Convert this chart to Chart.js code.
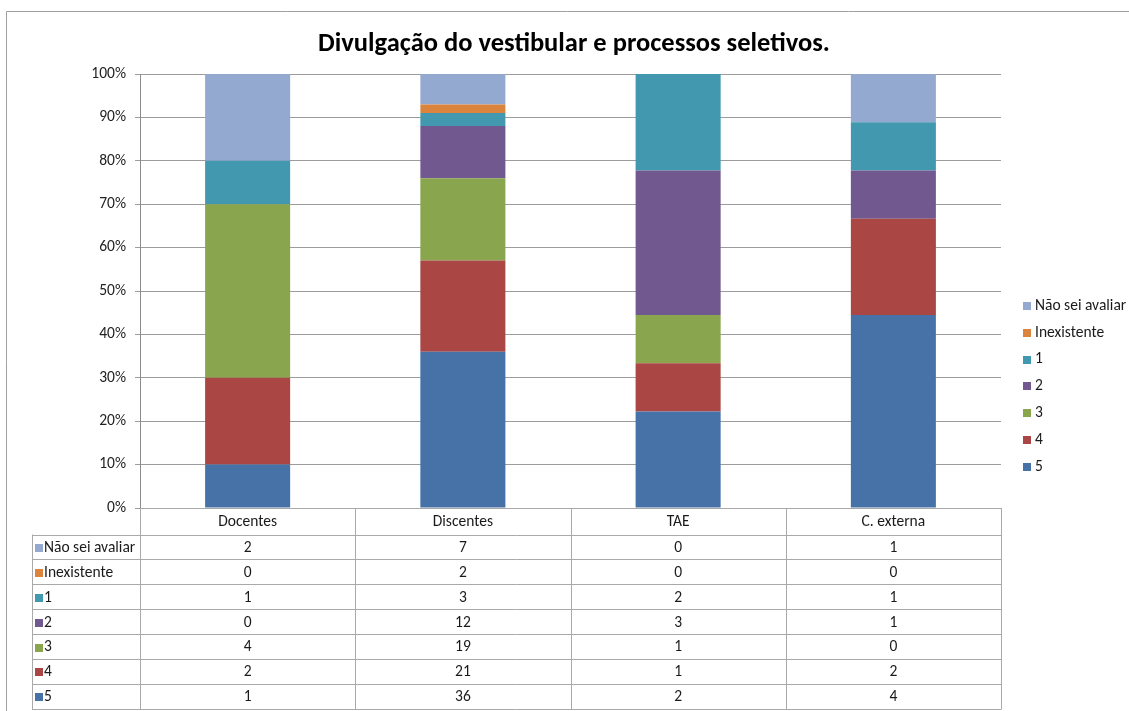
<!DOCTYPE html>
<html>
<head>
<meta charset="utf-8">
<script src="https://cdn.jsdelivr.net/npm/chart.js@4"></script>
<style>
  html, body { margin: 0; padding: 0; background: #ffffff; }
  #wrap { width: 1129px; height: 711px; position: relative; }
</style>
</head>
<body>
<div id="wrap"><canvas id="c" width="1129" height="711"></canvas></div>
<script>
// Respondent groups (columns)
const categories = ['Docentes', 'Discentes', 'TAE', 'C. externa'];

// Answer counts per group
const naoSeiAvaliar = [2, 7, 0, 1];
const inexistente   = [0, 2, 0, 0];
const nota1         = [1, 3, 2, 1];
const nota2         = [0, 12, 3, 1];
const nota3         = [4, 19, 1, 0];
const nota4         = [2, 21, 1, 2];
const nota5         = [1, 36, 2, 4];

// Y axis tick labels (0% .. 100%)
const yTickLabels = ['0%', '10%', '20%', '30%', '40%', '50%', '60%', '70%', '80%', '90%', '100%'];

const chartTitle = 'Divulgação do vestibular e processos seletivos.';

// Series, bottom of the stack first
const series = [
  { label: '5',               counts: nota5,         color: '#4672A8' },
  { label: '4',               counts: nota4,         color: '#AA4644' },
  { label: '3',               counts: nota3,         color: '#89A54E' },
  { label: '2',               counts: nota2,         color: '#71598F' },
  { label: '1',               counts: nota1,         color: '#4198AF' },
  { label: 'Inexistente',     counts: inexistente,   color: '#DB843D' },
  { label: 'Não sei avaliar', counts: naoSeiAvaliar, color: '#93A9CF' }
];

// Column totals for the 100% stacking
const totals = categories.map((_, i) => series.reduce((s, d) => s + d.counts[i], 0));

const FONT = "Carlito, 'Open Sans', 'Liberation Sans', sans-serif";
const LINE = '#a9a9a9';
const TEXT_SIZE = 15.5;

const tablePlugin = {
  id: 'dataTable',
  afterDraw(chart) {
    const ctx = chart.ctx;
    const a = chart.chartArea;
    const xs = chart.scales.x;
    const colW = (a.right - a.left) / categories.length;
    const headerH = 26.5;
    const rowH = 24.9;
    const tableLeft = 32;
    const rows = series.slice().reverse();
    const top = a.bottom;
    const bodyTop = top + headerH;
    const bottom = bodyTop + rows.length * rowH;

    ctx.save();
    // outer chart frame (left and top edges)
    ctx.strokeStyle = '#a0a0a0';
    ctx.lineWidth = 1;
    ctx.beginPath();
    ctx.moveTo(6.5, 711);
    ctx.lineTo(6.5, 11.5);
    ctx.lineTo(1129, 11.5);
    ctx.stroke();

    // title
    ctx.fillStyle = '#000';
    ctx.font = "bold 26.5px " + FONT;
    ctx.textAlign = 'center';
    ctx.textBaseline = 'middle';
    ctx.fillText(chartTitle, 574, 44);

    // table grid
    ctx.strokeStyle = LINE;
    ctx.beginPath();
    ctx.moveTo(a.left, Math.round(top) + 0.5);
    ctx.lineTo(a.right, Math.round(top) + 0.5);
    for (let k = 0; k <= rows.length; k++) {
      const y = Math.round(bodyTop + k * rowH) + 0.5;
      ctx.moveTo(tableLeft, y);
      ctx.lineTo(a.right, y);
    }
    for (let i = 0; i <= categories.length; i++) {
      const x = Math.round(a.left + i * colW) + 0.5;
      ctx.moveTo(x, top);
      ctx.lineTo(x, Math.round(bottom) + 0.5);
    }
    ctx.moveTo(tableLeft + 0.5, bodyTop);
    ctx.lineTo(tableLeft + 0.5, Math.round(bottom) + 0.5);
    ctx.stroke();

    // header labels
    ctx.font = TEXT_SIZE + "px " + FONT;
    ctx.fillStyle = '#1a1a1a';
    ctx.textAlign = 'center';
    ctx.textBaseline = 'middle';
    categories.forEach((c, i) => {
      ctx.fillText(c, xs.getPixelForValue(i), top + headerH / 2 + 1);
    });

    // body rows
    rows.forEach((s, k) => {
      const yMid = bodyTop + k * rowH + rowH / 2 + 1;
      ctx.fillStyle = s.color;
      ctx.fillRect(tableLeft + 3, Math.round(yMid - 4), 8, 8);
      ctx.fillStyle = '#1a1a1a';
      ctx.textAlign = 'left';
      ctx.fillText(s.label, tableLeft + 12, yMid);
      ctx.textAlign = 'center';
      s.counts.forEach((v, i) => {
        ctx.fillText(String(v), xs.getPixelForValue(i), yMid);
      });
    });

    // legend on the right
    rows.forEach((s, k) => {
      const yMid = 306 + k * 26.8;
      ctx.fillStyle = s.color;
      ctx.fillRect(1023, Math.round(yMid - 4), 8, 8);
      ctx.fillStyle = '#1a1a1a';
      ctx.textAlign = 'left';
      ctx.fillText(s.label, 1035, yMid);
    });
    ctx.restore();
  }
};

new Chart(document.getElementById('c'), {
  type: 'bar',
  data: {
    labels: categories,
    datasets: series.map(s => ({
      label: s.label,
      data: s.counts.map((v, i) => v / totals[i] * 100),
      backgroundColor: s.color,
      borderWidth: 0,
      categoryPercentage: 1,
      barPercentage: 0.395
    }))
  },
  options: {
    responsive: false,
    animation: false,
    devicePixelRatio: 1,
    layout: { padding: { top: 74, right: 128, bottom: 203, left: 0 } },
    plugins: {
      legend: { display: false },
      title: { display: false },
      tooltip: { enabled: false }
    },
    scales: {
      x: {
        stacked: true,
        display: false
      },
      y: {
        stacked: true,
        min: 0,
        max: 100,
        afterFit(scale) { scale.width = 140; },
        ticks: {
          stepSize: 10,
          padding: 9,
          color: '#222',
          font: { family: FONT, size: 15.5 },
          callback: (v, i) => yTickLabels[i]
        },
        grid: {
          color: '#9c9c9c',
          tickLength: 5,
          drawTicks: true
        },
        border: { display: true, color: '#8c8c8c' }
      }
    }
  },
  plugins: [tablePlugin]
});
</script>
</body>
</html>
